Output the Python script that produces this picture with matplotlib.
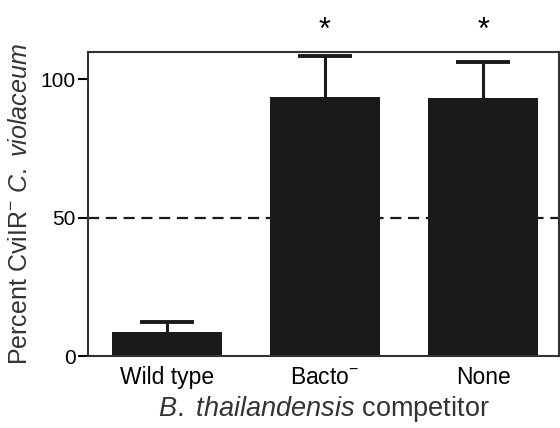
import matplotlib
matplotlib.use("Agg")
import matplotlib.pyplot as plt

plt.rcParams['font.family'] = ['Liberation Sans', 'DejaVu Sans']
plt.rcParams['mathtext.fontset'] = 'custom'
plt.rcParams['mathtext.rm'] = 'Liberation Sans'
plt.rcParams['mathtext.it'] = 'Liberation Sans:italic'

categories = ["Wild type", r"Bacto$^{-}$", "None"]
percent = [8.8, 93.8, 93.4]
err_up = [3.4, 14.6, 12.8]
significant = [False, True, True]

fig = plt.figure(figsize=(5.6, 4.28), dpi=100)
ax = fig.add_axes([0.157, 0.168, 0.841, 0.711])

x = list(range(len(categories)))
ink = "#1a1a18"
ax.bar(x, percent, width=0.7, color=ink, zorder=2)
# one-sided (upper) error bars
tops = [p + e for p, e in zip(percent, err_up)]
ax.vlines(x, percent, tops, color=ink, lw=2.2, zorder=1)
ax.hlines(tops, [xi - 0.17 for xi in x], [xi + 0.17 for xi in x],
          color=ink, lw=2.8, zorder=1, clip_on=False)
ax.axhline(50, color=ink, lw=1.6, ls=(0, (5, 3)), zorder=0)

for xi, s in zip(x, significant):
    if s:
        ax.text(xi, 117.5, "*", ha="center", va="center", fontsize=22, clip_on=False)

ax.set_xlim(-0.5, 2.48)
ax.set_ylim(0, 110)
ax.set_yticks([0, 50, 100])
ax.set_xticks(x)
ax.set_xticklabels(categories, fontsize=16.5)
ax.tick_params(axis="x", length=0, pad=7)
ax.tick_params(axis="y", length=7, width=1.5, labelsize=15, pad=2)
for sp in ax.spines.values():
    sp.set_linewidth(1.5)
    sp.set_color("#333333")

ax.set_ylabel(r"Percent CviIR$^{-}$ $\mathit{C.\ violaceum}$", fontsize=18, color="#333333", labelpad=6)
ax.set_xlabel(r"$\mathit{B.\ thailandensis}$ competitor", fontsize=19.5, color="#333333", labelpad=4)

fig.savefig("out.png", dpi=100)
